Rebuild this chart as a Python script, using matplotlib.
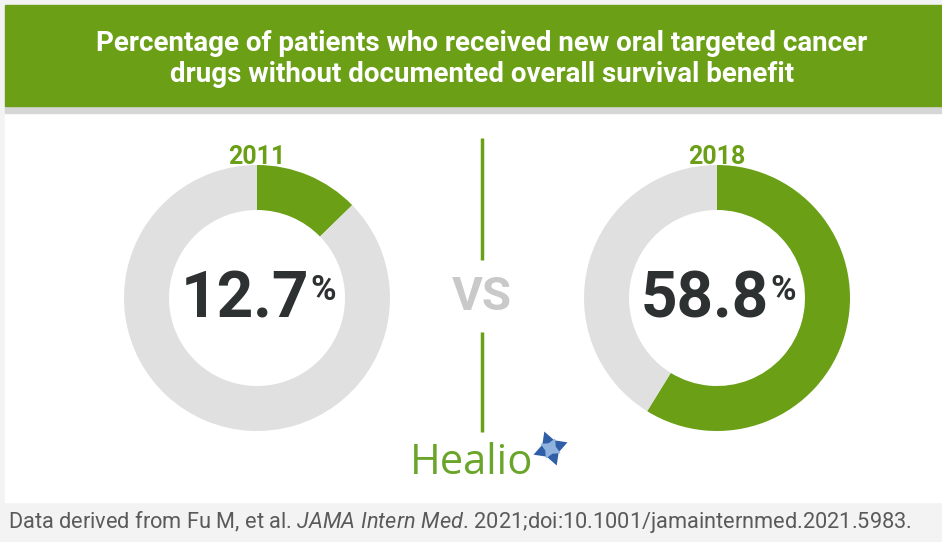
import matplotlib
matplotlib.use('Agg')
import matplotlib.pyplot as plt
from matplotlib.patches import Rectangle

# data
years = ['2011', '2018']
share = [12.7, 58.8]          # % of patients without documented OS benefit
title = ('Percentage of patients who received new oral targeted cancer\n'
         'drugs without documented overall survival benefit')
source = 'Data derived from Fu M, et al. $\\it{JAMA\\ Intern\\ Med}$. 2021;doi:10.1001/jamainternmed.2021.5983.'

GREEN = '#6a9f16'
GRAY = '#e0e0e0'
DARK = '#2d3132'

plt.rcParams['mathtext.fontset'] = 'custom'
plt.rcParams['mathtext.it'] = 'Roboto:italic'
plt.rcParams['mathtext.rm'] = 'Roboto'

W, H = 942, 542
fig = plt.figure(figsize=(W / 100, H / 100), dpi=100, facecolor='#f3f3f3')
ax = fig.add_axes([0, 0, 1, 1])
ax.set_facecolor('#f3f3f3')


def py(y):
    # pixel row -> data y
    return H - y


# panels
ax.add_patch(Rectangle((5, py(502)), W - 5, 390, color='white', zorder=0))
ax.add_patch(Rectangle((5, py(113)), W - 5, 8, color='#d6d6d6', zorder=0))
ax.add_patch(Rectangle((5, py(106)), W - 5, 101, color=GREEN, zorder=1))
ax.text(482, py(59), title, ha='center', va='center', color='white',
        fontsize=20, fontweight='bold', linespacing=1.2, family='Roboto')

# donuts
centers = [(257, py(298)), (717, py(298))]
for (cx, cy), yr, v in zip(centers, years, share):
    ax.pie([v, 100 - v], colors=[GREEN, GRAY], startangle=90, counterclock=False,
           center=(cx, cy), radius=133, frame=True,
           wedgeprops=dict(width=45, linewidth=0))
    ax.text(cx, py(157), yr, ha='center', va='center', color=GREEN,
            fontsize=18, fontweight='bold', family='Roboto')
    num = ax.text(cx - 12, cy - 2, f'{v:.1f}', ha='center', va='center',
                  color=DARK, fontsize=46, fontweight='bold', family='Roboto')
    ax.annotate('%', xy=(1, 1), xycoords=num, xytext=(1, -3),
                textcoords='offset points', ha='left', va='top',
                color=DARK, fontsize=25, fontweight='bold', family='Roboto')

# divider and VS
ax.plot([482, 482], [py(138), py(260)], color=GREEN, lw=2.5, solid_capstyle='butt')
ax.plot([482, 482], [py(332), py(432)], color=GREEN, lw=2.5, solid_capstyle='butt')
ax.text(482, py(297), 'VS', ha='center', va='center', color='#c9c9c9',
        fontsize=34, fontweight='bold', family='Roboto')

# logo
ax.text(472, py(463), 'Healio', ha='center', va='center', color='#6aa52a',
        fontsize=30, family='Open Sans')
ax.plot(550, py(448), marker=(4, 1, 20), ms=26, color='#2f5fa6', mew=0)
ax.plot(550, py(448), marker=(4, 1, 65), ms=16, color='#8fb3de', mew=0)

# caption
ax.text(8, py(522), source, ha='left', va='center', color='#5a5a5a',
        fontsize=15.7, family='Roboto')

ax.set_xlim(0, W)
ax.set_ylim(0, H)
ax.set_aspect('auto')
ax.axis('off')
fig.savefig('out.png', dpi=100, facecolor=fig.get_facecolor())
